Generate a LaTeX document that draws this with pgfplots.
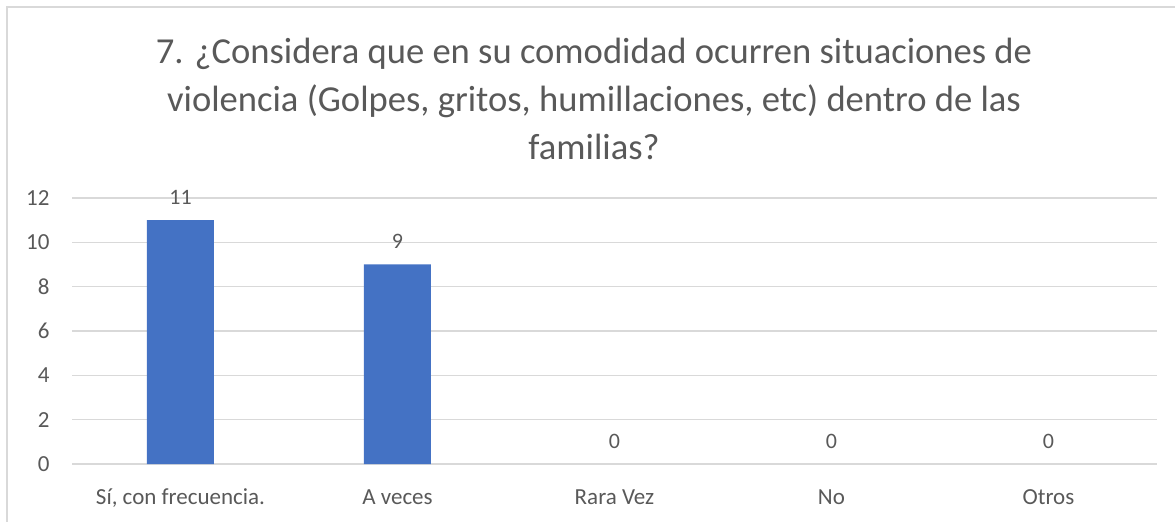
\documentclass[border=0pt]{standalone}
\usepackage{pgfplots}
\pgfplotsset{compat=1.18}
\usepackage{fontspec}
\setmainfont{Carlito}
\definecolor{barblue}{HTML}{4472C4}
\definecolor{txt}{HTML}{595959}
\definecolor{gridc}{HTML}{D9D9D9}
\begin{document}
\begin{tikzpicture}
\useasboundingbox (0bp,0bp) rectangle (1175bp,522bp);
\draw[gridc, line width=1.2bp] (7bp,-5bp) -- (7bp,515bp) -- (1180bp,515bp);
\node[txt, anchor=base, font=\fontsize{36.6bp}{42bp}\selectfont] at (594bp,458bp) {7. ¿Considera que en su comodidad ocurren situaciones de};
\node[txt, anchor=base, font=\fontsize{36.6bp}{42bp}\selectfont] at (594bp,410bp) {violencia (Golpes, gritos, humillaciones, etc) dentro de las};
\node[txt, anchor=base, font=\fontsize{36.6bp}{42bp}\selectfont] at (594bp,362bp) {familias?};
\begin{axis}[
  at={(72bp,58bp)}, anchor=south west,
  scale only axis, width=1085bp, height=266bp,
  xmin=-0.5, xmax=4.5, ymin=0, ymax=12,
  ytick={0,2,...,12},
  xtick={0,1,2,3,4},
  xticklabels={{Sí, con frecuencia.},{A veces},{Rara Vez},{No},{Otros}},
  /pgf/number format/assume math mode=true,
  tick label style={font=\fontsize{23bp}{27bp}\selectfont, text=txt},
  yticklabel style={anchor=east, xshift=-19bp},
  xticklabel style={anchor=base, yshift=-40bp},
  major tick length=0pt,
  axis line style={draw=none},
  ymajorgrids, xmajorgrids=false, grid style={gridc, line width=1.2bp},
  ybar, bar width=67bp, bar shift=0pt,
  nodes near coords,
  every node near coord/.append style={font=\fontsize{22bp}{26bp}\selectfont, text=txt, yshift=12bp},
  clip=false,
]
\addplot[fill=barblue, draw=none] coordinates {(0,11) (1,9)};
\addplot[fill=none, draw=none] coordinates {(2,0) (3,0) (4,0)};
\end{axis}
\end{tikzpicture}
\end{document}
